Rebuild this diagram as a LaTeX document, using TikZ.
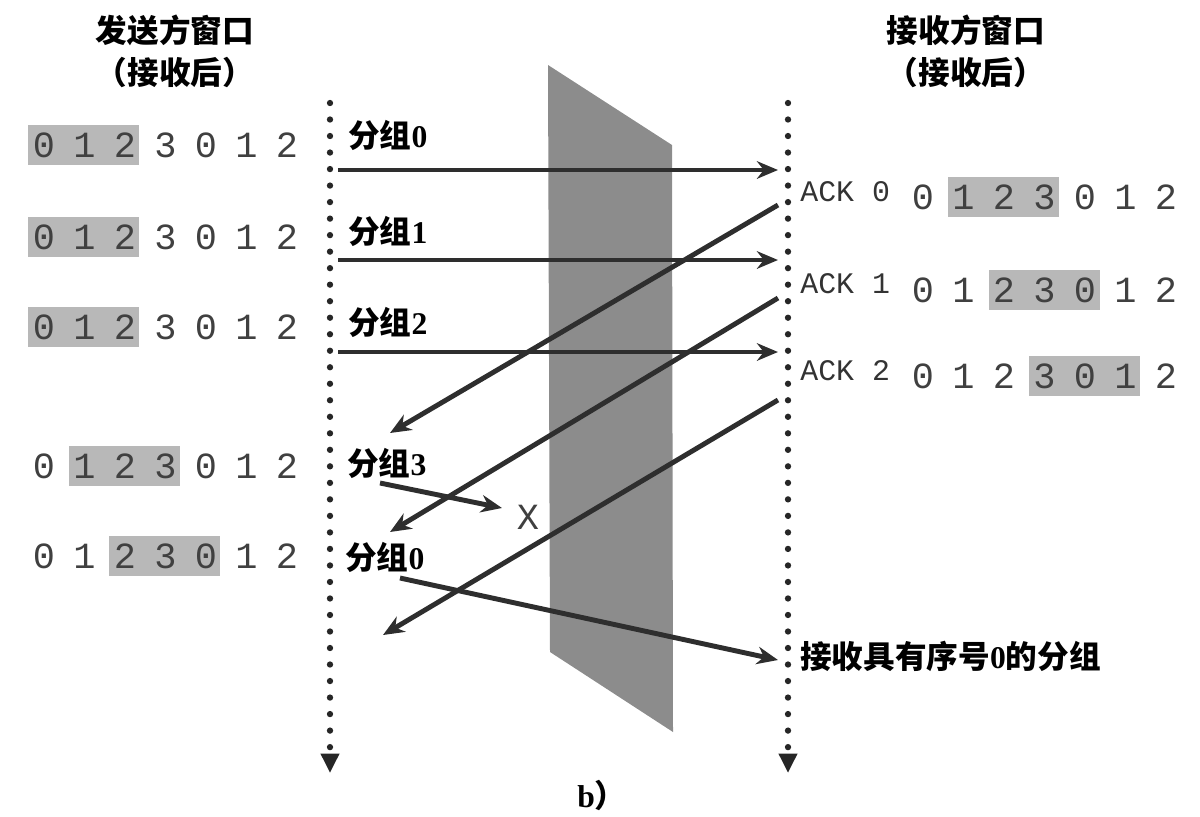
\documentclass[tikz,border=0pt]{standalone}
\usepackage{fontspec}
\setmainfont{Liberation Serif}
\setmonofont{Liberation Mono}
\newfontfamily\cjk{Noto Sans CJK SC}
\usetikzlibrary{arrows.meta, positioning}
\definecolor{wingray}{HTML}{B8B8B8}
\definecolor{panegray}{HTML}{8C8C8C}
\definecolor{inkgray}{HTML}{2E2E2E}

\begin{document}
\begin{tikzpicture}[x=0.02cm, y=-0.02cm,
    digit/.style={inner sep=0pt, font=\ttfamily\fontsize{21}{21}\selectfont, text=black!75},
    acklabel/.style={inner sep=0pt, anchor=west, font=\ttfamily\fontsize{17}{17}\selectfont, text=black!80},
    pktlabel/.style={inner sep=0pt, anchor=west, font=\bfseries\fontsize{18}{18}\selectfont},
    header/.style={inner sep=0pt, align=center, font=\cjk\bfseries\fontsize{18}{24}\selectfont},
    timeline/.style={line width=3.6pt, line cap=round, dash pattern=on 0pt off 9.4pt, black!85,
        -{Triangle[length=11pt 0, width=10pt 0]}},
    msg/.style={line width=2.8pt, inkgray, -{Stealth[length=12pt 0, width=10pt 0]}},
    win/.style={fill=wingray}]
        \useasboundingbox (0,0) rectangle (1200,816);

        % glass pane between sender and receiver
        \fill[panegray] (548,65) -- (672,145) -- (673,732) -- (550,652) -- cycle;

        % time lines
        \coordinate (stop) at (330,103);
        \coordinate (sbot) at (330,773);
        \coordinate (rtop) at (788,103);
        \coordinate (rbot) at (788,773);
        \draw[timeline] (stop) -- (sbot);
        \draw[timeline] (rtop) -- (rbot);

        % headers
        \node[header] (sendhead) at (175,51) {发送方窗口\\（接收后）};
        \node[header] (recvhead) at (966,51) {接收方窗口\\（接收后）};

        % sender windows
        \foreach \row/\y/\a in {1/145/0, 2/237/0, 3/327/0, 4/466/1, 5/556/2} {
            \fill[win] ({28+40.5*\a},{\y-20}) rectangle ({139+40.5*\a},{\y+20});
            \foreach \d [count=\k] in {0,1,2,3,0,1,2}
                \node[digit] (s\row-\k) at ({44+40.5*(\k-1)},\y) {\d};
        }

        % receiver windows
        \foreach \row/\y/\a in {0/197/1, 1/290/2, 2/376/3} {
            \fill[win] ({907.5+40.5*\a},{\y-20}) rectangle ({1018.5+40.5*\a},{\y+20});
            \foreach \d [count=\k] in {0,1,2,3,0,1,2}
                \node[digit] (r\row-\k) at ({923+40.5*(\k-1)},\y) {\d};
        }

        % ACK labels
        \node[acklabel] (ack0) at (800,192) {ACK 0};
        \node[acklabel] (ack1) at (800,284) {ACK 1};
        \node[acklabel] (ack2) at (800,371) {ACK 2};

        % packet labels
        \node[pktlabel] (pkt0) at (348,135) {{\cjk 分组}0};
        \node[pktlabel] (pkt1) at (348,231) {{\cjk 分组}1};
        \node[pktlabel] (pkt2) at (348,322) {{\cjk 分组}2};
        \node[pktlabel] (pkt3) at (347,463) {{\cjk 分组}3};
        \node[pktlabel] (pkt0b) at (345,557) {{\cjk 分组}0};
        \node[pktlabel] (gotit) at (800,656) {{\cjk 接收具有序号}0{\cjk 的分组}};
        \node[digit] (lost) at (528,517) {X};
        \node[inner sep=0pt, font=\bfseries\fontsize{18}{18}\selectfont] (cap) at (602,795) {b{\cjk ）}};

        % end points on the time lines
        \coordinate (sp0) at (338,170);  \coordinate (rp0) at (778,170);
        \coordinate (sp1) at (338,260);  \coordinate (rp1) at (778,260);
        \coordinate (sp2) at (338,352);  \coordinate (rp2) at (778,352);
        \coordinate (ra0) at (778,205);  \coordinate (sa0) at (390,433);
        \coordinate (ra1) at (778,298);  \coordinate (sa1) at (390,532);
        \coordinate (ra2) at (778,400);  \coordinate (sa2) at (383,635);
        \coordinate (sp3) at (380,483);  \coordinate (xp3) at (502,508);
        \coordinate (sp4) at (400,578);  \coordinate (rp4) at (778,660);

        % packets and acks
        \draw[msg] (sp0) -- (rp0);
        \draw[msg] (sp1) -- (rp1);
        \draw[msg] (sp2) -- (rp2);
        \draw[msg] (ra0) -- (sa0);
        \draw[msg] (ra1) -- (sa1);
        \draw[msg] (ra2) -- (sa2);
        \draw[msg] (sp3) -- (xp3);
        \draw[msg] (sp4) -- (rp4);
\end{tikzpicture}
\end{document}
